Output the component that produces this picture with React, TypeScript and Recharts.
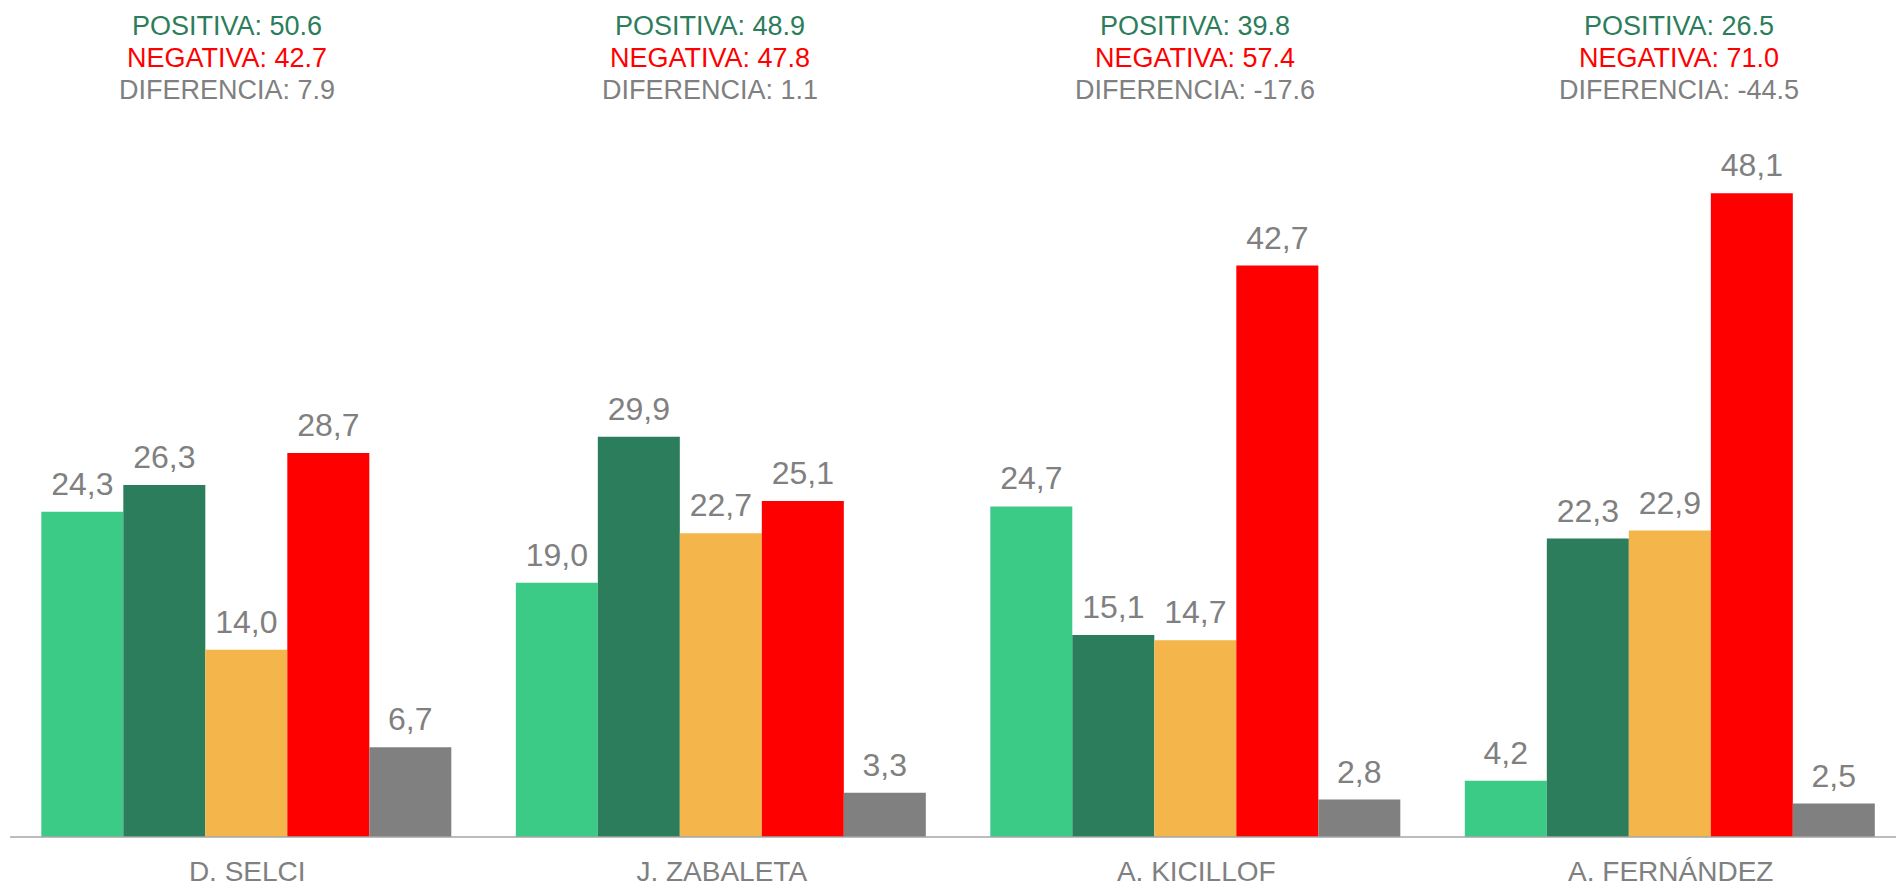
import React from "react";
import { Bar, BarChart, LabelList, XAxis, YAxis } from "recharts";

const candidatos = ["D. SELCI", "J. ZABALETA", "A. KICILLOF", "A. FERNÁNDEZ"];

const muyPositiva = [24.3, 19.0, 24.7, 4.2];
const positiva = [26.3, 29.9, 15.1, 22.3];
const regular = [14.0, 22.7, 14.7, 22.9];
const negativa = [28.7, 25.1, 42.7, 48.1];
const nsnc = [6.7, 3.3, 2.8, 2.5];

const totalPositiva = [50.6, 48.9, 39.8, 26.5];
const totalNegativa = [42.7, 47.8, 57.4, 71.0];
const diferencia = [7.9, 1.1, -17.6, -44.5];

// centros de los textos de arriba (no coinciden exacto con los grupos)
const headerX = [227, 710, 1195, 1679];

const FONT = "'Liberation Sans', Arial, sans-serif";
const GRIS = "#808080";

const data = candidatos.map((name, i) => ({
  name,
  muyPositiva: muyPositiva[i],
  positiva: positiva[i],
  regular: regular[i],
  negativa: negativa[i],
  nsnc: nsnc[i],
}));

const series = [
  { key: "muyPositiva", color: "#3CCB87" },
  { key: "positiva", color: "#2B7D5B" },
  { key: "regular", color: "#F4B54B" },
  { key: "negativa", color: "#FF0000" },
  { key: "nsnc", color: "#808080" },
];

const fmt = (v: number) => v.toFixed(1).replace(".", ",");

const App = () => {
  return (
    <div
      style={{
        position: "absolute",
        left: 0,
        top: 0,
        width: 1896,
        height: 888,
        overflow: "hidden",
        background: "#fff",
        fontFamily: FONT,
      }}
    >
      <BarChart
        width={1910}
        height={888}
        data={data}
        margin={{ top: 34, right: 2, bottom: 11, left: 10 }}
        barCategoryGap="6.6%"
        barGap={0}
      >
        <XAxis
          dataKey="name"
          height={40}
          tickLine={false}
          tickSize={0}
          tickMargin={24}
          axisLine={{ stroke: "#A6A6A6", strokeWidth: 1.5 }}
          tick={{ fill: GRIS, fontSize: 28, fontFamily: FONT }}
          interval={0}
        />
        <YAxis hide domain={[0, 60]} />
        {series.map((s) => (
          <Bar key={s.key} dataKey={s.key} fill={s.color} isAnimationActive={false}>
            <LabelList
              dataKey={s.key}
              position="top"
              offset={17}
              formatter={(v: any) => fmt(Number(v))}
              style={{ fill: GRIS, fontSize: 32, fontFamily: FONT }}
            />
          </Bar>
        ))}
      </BarChart>
      <svg
        width={1896}
        height={110}
        style={{ position: "absolute", left: 0, top: 0 }}
      >
        {candidatos.map((c, i) => (
          <g key={c} fontFamily={FONT} fontSize={27} textAnchor="middle">
            <text x={headerX[i]} y={35} fill="#2B7D5B">
              {"POSITIVA: " + totalPositiva[i].toFixed(1)}
            </text>
            <text x={headerX[i]} y={66.5} fill="#FF0000">
              {"NEGATIVA: " + totalNegativa[i].toFixed(1)}
            </text>
            <text x={headerX[i]} y={98.5} fill={GRIS}>
              {"DIFERENCIA: " + diferencia[i].toFixed(1)}
            </text>
          </g>
        ))}
      </svg>
    </div>
  );
};

export default App;
